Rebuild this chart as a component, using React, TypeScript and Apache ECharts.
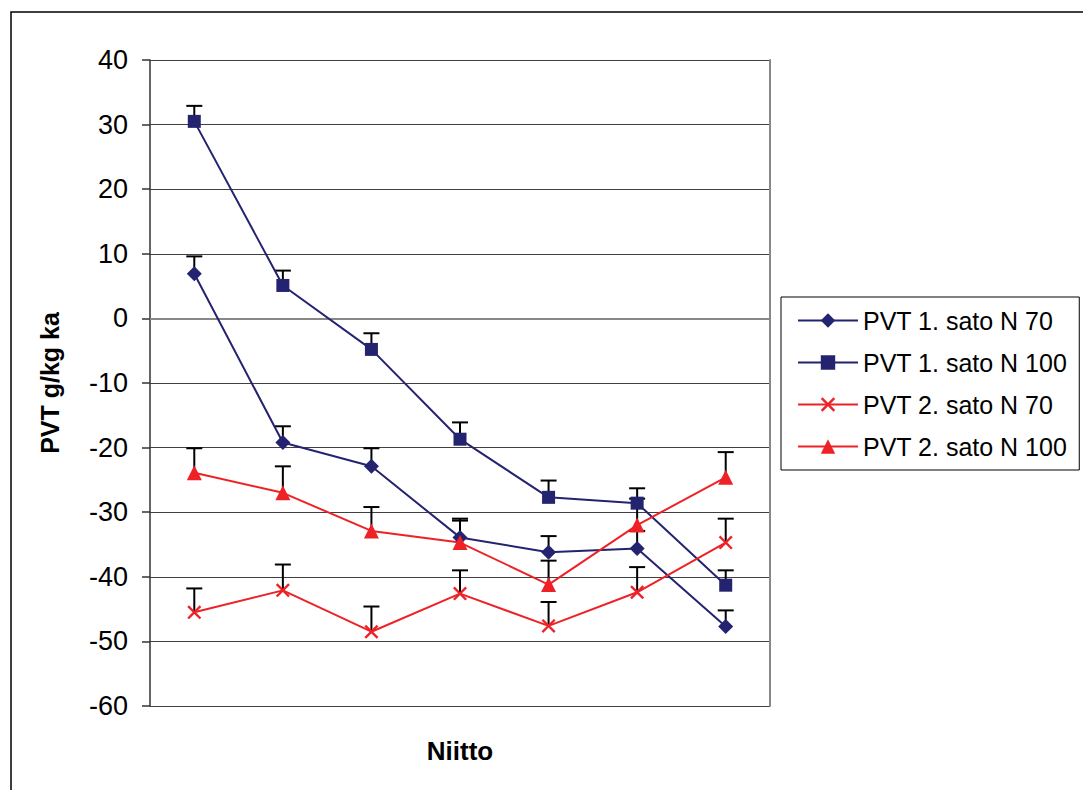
import React, { useEffect, useRef } from "react";
import * as echarts from "echarts";

const categories = ["1", "2", "3", "4", "5", "6", "7"];
const seriesNames = [
  "PVT 1. sato N 70",
  "PVT 1. sato N 100",
  "PVT 2. sato N 70",
  "PVT 2. sato N 100",
];
const sato1N70 = [6.9, -19.2, -22.9, -33.9, -36.2, -35.6, -47.7];
const sato1N70Err = [2.7, 2.5, 2.8, 2.6, 2.5, 2.7, 2.5];
const sato1N100 = [30.5, 5.1, -4.8, -18.7, -27.7, -28.6, -41.3];
const sato1N100Err = [2.4, 2.3, 2.5, 2.6, 2.6, 2.3, 2.3];
const sato2N70 = [-45.5, -42.1, -48.5, -42.6, -47.6, -42.4, -34.7];
const sato2N70Err = [3.7, 4.0, 3.9, 3.6, 3.7, 3.9, 3.7];
const sato2N100 = [-23.9, -27.0, -32.9, -34.7, -41.2, -32.0, -24.6];
const sato2N100Err = [3.8, 4.1, 3.7, 3.7, 3.7, 4.1, 3.9];
const yTicks = { min: -60, max: 40, interval: 10 };

const NAVY = "#232370";
const RED = "#EE2226";
const FONT = "'Liberation Sans', Arial, sans-serif";
const X_PATH =
  "path://M0,1.2 L1.2,0 L5,3.8 L8.8,0 L10,1.2 L6.2,5 L10,8.8 L8.8,10 L5,6.2 L1.2,10 L0,8.8 L3.8,5 Z";

function errSeries(values: number[], errs: number[]) {
  return {
    type: "custom",
    z: 1,
    silent: true,
    encode: { x: 0, y: 1 },
    data: values.map((v, i) => [i, v, errs[i]]),
    renderItem: (params: any, api: any) => {
      const x = api.value(0);
      const v = api.value(1);
      const e = api.value(2);
      const p = api.coord([x, v]);
      const t = api.coord([x, v + e]);
      return {
        type: "group",
        children: [
          {
            type: "line",
            shape: { x1: p[0], y1: p[1], x2: t[0], y2: t[1] },
            style: { stroke: "#000", lineWidth: 2 },
          },
          {
            type: "line",
            shape: { x1: t[0] - 8, y1: t[1], x2: t[0] + 8, y2: t[1] },
            style: { stroke: "#000", lineWidth: 2 },
          },
        ],
      };
    },
  };
}

function lineSeries(name: string, values: number[], color: string, symbol: string, size: number) {
  return {
    type: "line",
    name,
    data: values,
    z: 3,
    symbol,
    symbolSize: size,
    showAllSymbol: true,
    lineStyle: { color, width: 2 },
    itemStyle: { color, borderWidth: 0 },
  };
}

export default function App() {
  const ref = useRef<HTMLDivElement>(null);
  useEffect(() => {
    if (!ref.current) return;
    const chart = echarts.init(ref.current, null, { renderer: "svg" });
    chart.setOption({
      animation: false,
      backgroundColor: "#fff",
      textStyle: { fontFamily: FONT },
      graphic: [
        {
          type: "rect",
          shape: { x: 11, y: 12, width: 1100, height: 800 },
          style: { fill: "none", stroke: "#000", lineWidth: 1.5 },
          silent: true,
        },
      ],
      grid: { left: 150, top: 60, right: 313, bottom: 84 },
      legend: {
        orient: "vertical",
        left: 781,
        top: 297,
        data: seriesNames,
        itemWidth: 60,
        itemHeight: 18,
        itemGap: 17,
        padding: [11, 12, 11, 16],
        borderColor: "#000",
        borderWidth: 1,
        textStyle: { fontFamily: FONT, fontSize: 25, color: "#000", lineHeight: 24 },
      },
      xAxis: {
        type: "category",
        data: categories,
        boundaryGap: true,
        name: "Niitto",
        nameLocation: "middle",
        nameGap: 32,
        nameTextStyle: { fontFamily: FONT, fontSize: 26, fontWeight: "bold", color: "#000" },
        axisLine: { lineStyle: { color: "#888", width: 2 } },
        axisTick: { show: false },
        axisLabel: { show: false },
        splitLine: { show: false },
      },
      yAxis: [
        {
          type: "value",
          min: yTicks.min,
          max: yTicks.max,
          interval: yTicks.interval,
          name: "PVT g/kg ka",
          nameLocation: "middle",
          nameGap: 88,
          nameTextStyle: { fontFamily: FONT, fontSize: 25, fontWeight: "bold", color: "#000" },
          axisLine: { show: true, lineStyle: { color: "#333", width: 1.5 } },
          axisTick: { show: true, length: 8, lineStyle: { color: "#333", width: 1.5 } },
          axisLabel: { fontFamily: FONT, fontSize: 27, color: "#000", margin: 22 },
          splitLine: { show: true, lineStyle: { color: "#404040", width: 1 } },
        },
        {
          type: "value",
          position: "right",
          min: yTicks.min,
          max: yTicks.max,
          interval: yTicks.interval,
          axisLine: { show: true, lineStyle: { color: "#888", width: 2 } },
          axisTick: { show: false },
          axisLabel: { show: false },
          splitLine: { show: false },
        },
      ],
      series: [
        errSeries(sato1N70, sato1N70Err),
        errSeries(sato1N100, sato1N100Err),
        errSeries(sato2N70, sato2N70Err),
        errSeries(sato2N100, sato2N100Err),
        lineSeries(seriesNames[0], sato1N70, NAVY, "diamond", 15),
        lineSeries(seriesNames[1], sato1N100, NAVY, "rect", 13),
        lineSeries(seriesNames[2], sato2N70, RED, X_PATH, 14),
        lineSeries(seriesNames[3], sato2N100, RED, "triangle", 15),
      ],
    });
    return () => chart.dispose();
  }, []);
  return (
    <div
      ref={ref}
      style={{ position: "fixed", left: 0, top: 0, width: 1083, height: 790, background: "#fff" }}
    />
  );
}
